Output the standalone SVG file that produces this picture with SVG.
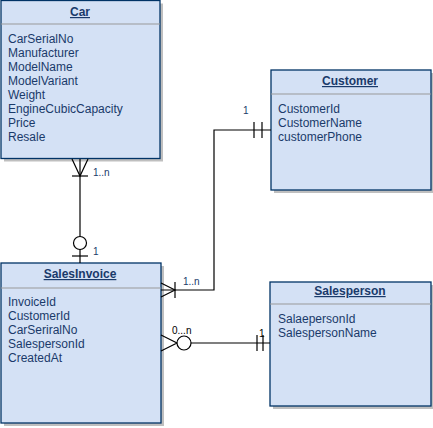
<svg xmlns="http://www.w3.org/2000/svg" width="433" height="428" viewBox="0 0 433 428">
<defs>
<style>
.shadow{fill:#000;opacity:0.25}
.box{fill:#d4e1f5;stroke:#003366;stroke-width:1.3}
.sep{stroke:#999;stroke-width:1}
.title{font-family:"Liberation Sans",Arial,sans-serif;font-size:12px;font-weight:bold;fill:#1a3a6a;text-decoration:underline;text-anchor:middle}
.attr{font-family:"Liberation Sans",Arial,sans-serif;font-size:12px;fill:#1a3a6a}
.ln{fill:none;stroke:#000;stroke-width:1.2}
.circ{fill:#fff;stroke:#000;stroke-width:1.2}
.lbl{font-family:"Liberation Sans",Arial,sans-serif;font-size:10px;fill:#1a3a6a}
.lblk{font-family:"Liberation Sans",Arial,sans-serif;font-size:10px;fill:#000}
</style>
</defs>
<g id="car">
<rect class="shadow" x="4" y="3.5" width="159" height="158"/>
<rect class="box" x="1" y="0.5" width="159" height="158"/>
<line class="sep" x1="1" y1="24" x2="160" y2="24"/>
<text class="title" x="80" y="16">Car</text>
<text class="attr" x="8" y="43">CarSerialNo</text>
<text class="attr" x="8" y="57">Manufacturer</text>
<text class="attr" x="8" y="71">ModelName</text>
<text class="attr" x="8" y="85">ModelVariant</text>
<text class="attr" x="8" y="99">Weight</text>
<text class="attr" x="8" y="113">EngineCubicCapacity</text>
<text class="attr" x="8" y="127">Price</text>
<text class="attr" x="8" y="141">Resale</text>
</g>
<g id="customer">
<rect class="shadow" x="274" y="73" width="160" height="120"/>
<rect class="box" x="271" y="70" width="160" height="120"/>
<line class="sep" x1="271" y1="94" x2="431" y2="94"/>
<text class="title" x="350" y="85">Customer</text>
<text class="attr" x="278" y="113">CustomerId</text>
<text class="attr" x="278" y="127">CustomerName</text>
<text class="attr" x="278" y="141">customerPhone</text>
</g>
<g id="salesinvoice">
<rect class="shadow" x="4" y="266" width="160" height="160"/>
<rect class="box" x="1" y="263" width="160" height="160"/>
<line class="sep" x1="1" y1="288" x2="161" y2="288"/>
<text class="title" x="80" y="278">SalesInvoice</text>
<text class="attr" x="8" y="306">InvoiceId</text>
<text class="attr" x="8" y="320">CustomerId</text>
<text class="attr" x="8" y="334">CarSeriralNo</text>
<text class="attr" x="8" y="348">SalespersonId</text>
<text class="attr" x="8" y="362">CreatedAt</text>
</g>
<g id="salesperson">
<rect class="shadow" x="273" y="285" width="161" height="124"/>
<rect class="box" x="270" y="282" width="161" height="124"/>
<line class="sep" x1="270" y1="304" x2="431" y2="304"/>
<text class="title" x="350" y="295">Salesperson</text>
<text class="attr" x="278" y="323">SalaepersonId</text>
<text class="attr" x="278" y="337">SalespersonName</text>
</g>
<g id="connectors">
<path class="ln" d="M80,159 V263"/>
<path class="ln" d="M72,159 L80,176 L88,159"/>
<path class="ln" d="M72,176 H88"/>
<circle class="circ" cx="80" cy="243" r="6.5"/>
<path class="ln" d="M72,256 H88"/>
<text class="lbl" x="93" y="176">1..n</text>
<text class="lbl" x="93" y="255">1</text>

<path class="ln" d="M161,290 H214 V130 H271"/>
<path class="ln" d="M161,283 L175,290 L161,297"/>
<path class="ln" d="M175,282 V298"/>
<path class="ln" d="M254,122 V138 M262,122 V138"/>
<text class="lbl" x="183" y="285">1..n</text>
<text class="lbl" x="243" y="114">1</text>

<path class="ln" d="M161,335 L177,343 L161,351"/>
<circle class="circ" cx="184" cy="343" r="7"/>
<path class="ln" d="M191,343 H270"/>
<path class="ln" d="M257,335 V351 M263,335 V351"/>
<text class="lblk" x="172" y="334">0...n</text>
<text class="lblk" x="259" y="337">1</text>
</g>
</svg>
